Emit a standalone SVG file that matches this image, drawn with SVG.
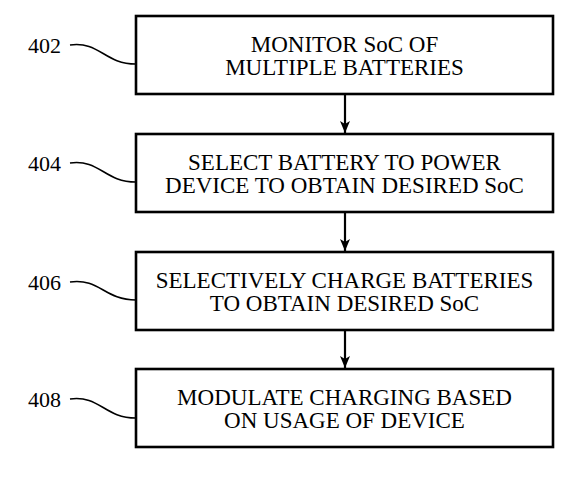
<svg xmlns="http://www.w3.org/2000/svg" width="574" height="481" viewBox="0 0 574 481">
<style>
.box{fill:#fff;stroke:#000;stroke-width:2.6}
.t{font-family:"Liberation Serif","Times New Roman",serif;font-size:23px;fill:#000;text-anchor:middle}
.lbl{font-family:"Liberation Serif","Times New Roman",serif;font-size:22px;fill:#000}
.lead{fill:none;stroke:#000;stroke-width:1.6}
.arr{fill:none;stroke:#000;stroke-width:2.2}
</style>
<defs>
<marker id="ah" viewBox="0 0 12 10" refX="12" refY="5" markerWidth="12" markerHeight="10" markerUnits="userSpaceOnUse" orient="auto">
<path d="M0,0 L3,5 L0,10 L12,5 Z" fill="#000"/>
</marker>
</defs>
<rect width="574" height="481" fill="#fff"/>
<g id="connectors">
<line class="arr" x1="345" y1="95" x2="345" y2="133" marker-end="url(#ah)"/>
<line class="arr" x1="345" y1="213" x2="345" y2="251" marker-end="url(#ah)"/>
<line class="arr" x1="345" y1="331" x2="345" y2="368" marker-end="url(#ah)"/>
</g>
<g id="n402">
<rect class="box" x="136" y="16" width="417" height="78"/>
<text class="t" x="344.5" y="52">MONITOR SoC OF</text>
<text class="t" x="344.5" y="75">MULTIPLE BATTERIES</text>
<text class="lbl" x="28" y="53">402</text>
<path class="lead" d="M70,45 C100,41 104,64 136,64"/>
</g>
<g id="n404">
<rect class="box" x="136" y="134" width="417" height="78"/>
<text class="t" x="344.5" y="170">SELECT BATTERY TO POWER</text>
<text class="t" x="344.5" y="193">DEVICE TO OBTAIN DESIRED SoC</text>
<text class="lbl" x="28" y="171">404</text>
<path class="lead" d="M70,163 C100,159 104,182 136,182"/>
</g>
<g id="n406">
<rect class="box" x="136" y="252" width="417" height="78"/>
<text class="t" x="344.5" y="288">SELECTIVELY CHARGE BATTERIES</text>
<text class="t" x="344.5" y="311">TO OBTAIN DESIRED SoC</text>
<text class="lbl" x="28" y="290">406</text>
<path class="lead" d="M70,282 C100,278 104,300 136,300"/>
</g>
<g id="n408">
<rect class="box" x="136" y="369" width="417" height="78"/>
<text class="t" x="344.5" y="405">MODULATE CHARGING BASED</text>
<text class="t" x="344.5" y="428">ON USAGE OF DEVICE</text>
<text class="lbl" x="28" y="407">408</text>
<path class="lead" d="M70,399 C100,395 104,418 136,418"/>
</g>
</svg>
